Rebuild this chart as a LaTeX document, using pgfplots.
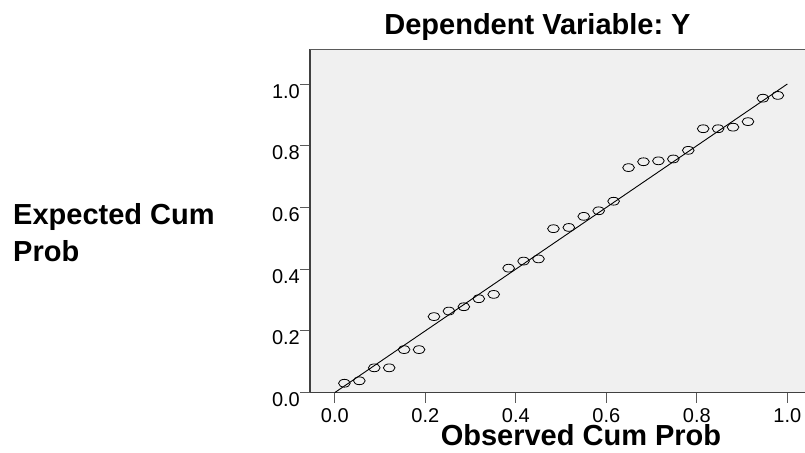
\documentclass[border=0pt]{standalone}
\usepackage{fontspec}
\setmainfont{Liberation Sans}
\usepackage{pgfplots}
\pgfplotsset{compat=1.18}

\definecolor{panel}{HTML}{F0F0F0}
\definecolor{axisc}{HTML}{404040}
\definecolor{tickc}{HTML}{5A5A5A}

\begin{document}
\frenchspacing
\begin{tikzpicture}
\path[use as bounding box] (0,0) rectangle (805pt,452pt);

\begin{axis}[
  at={(310pt,59.5pt)}, anchor=south west,
  scale only axis, width=522.6pt, height=343.2pt,
  xmin=-0.055, xmax=1.1, ymin=0, ymax=1.1125,
  axis x line*=bottom, axis y line*=left,
  x axis line style={-, color=axisc, line width=1.4pt},
  y axis line style={-, color=axisc, line width=2pt},
  axis background/.style={fill=panel},
  xtick={0,0.2,0.4,0.6,0.8,1.0}, ytick={0,0.2,0.4,0.6,0.8,1.0},
  tick align=outside, major tick length=10pt,
  tick style={color=tickc, line width=0.9pt},
  /pgf/number format/.cd, fixed, fixed zerofill, precision=1, assume math mode=true,
  /pgfplots/.cd,
  tick label style={font=\fontsize{20}{24}\selectfont},
  xticklabel style={anchor=north, inner sep=0pt, yshift=-5.5pt},
  yticklabel style={anchor=north east, inner sep=0pt, xshift=0pt},
  clip=false,
]
\draw[color=tickc, line width=1pt] (rel axis cs:0,1) -- (rel axis cs:1,1);
\addplot[black, line width=0.9pt, mark=none] coordinates {(0,0) (1,1)};
\addplot[only marks, mark=o, mark size=3.9pt,
         mark options={xscale=1.5, line width=0.8pt, draw=black}]
  coordinates {
  (0.021,0.030) (0.054,0.038) (0.087,0.080) (0.120,0.080) (0.153,0.139)
  (0.186,0.139) (0.219,0.246) (0.252,0.264) (0.285,0.278) (0.318,0.304)
  (0.351,0.318) (0.384,0.403) (0.417,0.426) (0.450,0.433) (0.483,0.531)
  (0.517,0.535) (0.550,0.571) (0.583,0.589) (0.616,0.620) (0.649,0.729)
  (0.682,0.748) (0.715,0.751) (0.748,0.757) (0.781,0.785) (0.814,0.855)
  (0.847,0.855) (0.880,0.860) (0.913,0.878) (0.946,0.954) (0.979,0.963)
  };
\end{axis}

\node[anchor=base, inner sep=0pt, font=\fontsize{29}{34}\selectfont\bfseries]
  at (537.5pt,417pt) {Dependent Variable: Y};
\node[anchor=base west, inner sep=0pt, font=\fontsize{29}{34}\selectfont\bfseries]
  at (13pt,227pt) {Expected Cum};
\node[anchor=base west, inner sep=0pt, font=\fontsize{29}{34}\selectfont\bfseries]
  at (13pt,190pt) {Prob};
\node[anchor=base, inner sep=0pt, font=\fontsize{29}{34}\selectfont\bfseries]
  at (581pt,6pt) {Observed Cum Prob};
\end{tikzpicture}
\end{document}
